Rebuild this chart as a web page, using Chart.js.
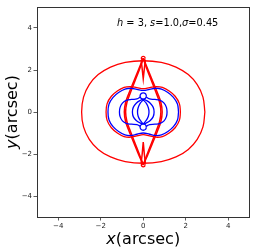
<!DOCTYPE html>
<html>
<head>
<meta charset="utf-8">
<script src="https://cdn.jsdelivr.net/npm/chart.js@4/dist/chart.umd.min.js"></script>
<style>
html,body{margin:0;padding:0;background:#fff;}
canvas{display:block;}
</style>
</head>
<body>
<canvas id="c" width="256" height="251"></canvas>
<script>
// ---- tick labels ----
const xTicks = [-4, -2, 0, 2, 4];
const yTicks = [-4, -2, 0, 2, 4];

// ---- red: large outer caustic (oval) ----
const ovalX = [2.90, 2.81, 2.54, 2.12, 1.54, 0.85, 0, -0.85, -1.54, -2.12, -2.54, -2.81, -2.90, -2.81, -2.54, -2.12, -1.54, -0.85, 0, 0.85, 1.54, 2.12, 2.54, 2.81, 2.90];
const ovalY = [0, 0.71, 1.30, 1.78, 2.14, 2.36, 2.44, 2.36, 2.14, 1.78, 1.30, 0.71, 0, -0.71, -1.30, -1.78, -2.14, -2.36, -2.44, -2.36, -2.14, -1.78, -1.30, -0.71, 0];

// ---- red: critical curve (peanut) ----
const peanutRX = [1.75, 1.70, 1.50, 1.22, 0.90, 0.60, 0.30, 0, -0.30, -0.60, -0.90, -1.22, -1.50, -1.70, -1.75, -1.70, -1.50, -1.22, -0.90, -0.60, -0.30, 0, 0.30, 0.60, 0.90, 1.22, 1.50, 1.70, 1.75];
const peanutRY = [0, 0.40, 0.75, 1.00, 1.17, 1.21, 1.16, 1.11, 1.16, 1.21, 1.17, 1.00, 0.75, 0.40, 0, -0.40, -0.75, -1.00, -1.17, -1.20, -1.14, -1.08, -1.14, -1.20, -1.17, -1.00, -0.75, -0.40, 0];

// ---- blue: critical curve (peanut, inner) ----
const peanutBX = [1.66, 1.61, 1.42, 1.16, 0.86, 0.58, 0.30, 0, -0.30, -0.58, -0.86, -1.16, -1.42, -1.61, -1.66, -1.61, -1.42, -1.16, -0.86, -0.58, -0.30, 0, 0.30, 0.58, 0.86, 1.16, 1.42, 1.61, 1.66];
const peanutBY = [0, 0.38, 0.70, 0.93, 1.09, 1.13, 1.08, 1.03, 1.08, 1.13, 1.09, 0.93, 0.70, 0.38, 0, -0.38, -0.70, -0.93, -1.09, -1.12, -1.06, -1.00, -1.06, -1.12, -1.09, -0.93, -0.70, -0.38, 0];

// ---- red: diamond caustic legs (outer and inner trace) ----
const legRX  = [0, 0.21, 0.45, 0.67, 0.83, 0.89, 0.83, 0.67, 0.45, 0.21, 0];
const legLX  = [0, -0.21, -0.45, -0.67, -0.83, -0.89, -0.83, -0.67, -0.45, -0.21, 0];
const legY   = [2.56, 2.05, 1.45, 0.90, 0.45, 0, -0.45, -0.90, -1.45, -2.05, -2.52];
const leg2RX = [0, 0.17, 0.40, 0.61, 0.77, 0.83, 0.77, 0.61, 0.40, 0.17, 0];
const leg2LX = [0, -0.17, -0.40, -0.61, -0.77, -0.83, -0.77, -0.61, -0.40, -0.17, 0];

// ---- red: inner cusps (V shapes) near top and bottom ----
const cuspTopX = [-0.10, -0.05, 0, 0.05, 0.10];
const cuspTopY = [2.48, 2.05, 1.58, 2.05, 2.48];
const cuspBotX = [-0.10, -0.05, 0, 0.05, 0.10];
const cuspBotY = [-2.44, -2.00, -1.43, -2.00, -2.44];

// ---- red: small loops at the diamond tips ----
const loopTopX = [0.09, 0.064, 0, -0.064, -0.09, -0.064, 0, 0.064, 0.09];
const loopTopY = [2.56, 2.624, 2.65, 2.624, 2.56, 2.496, 2.47, 2.496, 2.56];
const loopBotX = [0.09, 0.064, 0, -0.064, -0.09, -0.064, 0, 0.064, 0.09];
const loopBotY = [-2.52, -2.456, -2.43, -2.456, -2.52, -2.584, -2.61, -2.584, -2.52];

// ---- blue: central lens ----
const lensX = [0, 0.14, 0.24, 0.27, 0.24, 0.14, 0, -0.14, -0.24, -0.27, -0.24, -0.14, 0];
const lensY = [0.58, 0.42, 0.20, 0, -0.20, -0.40, -0.55, -0.40, -0.20, 0, 0.20, 0.42, 0.58];

// ---- blue: wings around the lens ----
const wingX = [0, -0.15, -0.33, -0.47, -0.51, -0.47, -0.33, -0.15, 0, 0.15, 0.33, 0.47, 0.51, 0.47, 0.33, 0.15, 0];
const wingY = [0.61, 0.55, 0.42, 0.22, 0, -0.22, -0.40, -0.52, -0.57, -0.52, -0.40, -0.22, 0, 0.22, 0.42, 0.55, 0.61];

// ---- blue: side lobes of the inner curve ----
const lobeLX = [-0.13, -0.30, -0.55, -0.80, -0.98, -1.09, -1.12, -1.09, -0.98, -0.80, -0.55, -0.30, -0.13];
const lobeRX = [0.13, 0.30, 0.55, 0.80, 0.98, 1.09, 1.12, 1.09, 0.98, 0.80, 0.55, 0.30, 0.13];
const lobeY  = [0.72, 0.62, 0.60, 0.55, 0.42, 0.22, 0, -0.22, -0.42, -0.54, -0.58, -0.60, -0.68];

// ---- blue: small loops top and bottom ----
const bloopTopX = [0.15, 0.106, 0, -0.106, -0.15, -0.106, 0, 0.106, 0.15];
const bloopTopY = [0.76, 0.866, 0.91, 0.866, 0.76, 0.654, 0.61, 0.654, 0.76];
const bloopBotX = [0.15, 0.106, 0, -0.106, -0.15, -0.106, 0, 0.106, 0.15];
const bloopBotY = [-0.72, -0.614, -0.57, -0.614, -0.72, -0.826, -0.87, -0.826, -0.72];

const RED = '#ff0000', BLUE = '#0000ff';
function pts(xs, ys) { return xs.map((x, i) => ({ x: x, y: ys[i] })); }
function ds(xs, ys, color, tension, width) {
  return { data: pts(xs, ys), showLine: true, borderColor: color, backgroundColor: color,
           borderWidth: width || 1.3, pointRadius: 0, fill: false, tension: tension };
}

const datasets = [
  ds(ovalX, ovalY, RED, 0.4),
  ds(peanutRX, peanutRY, RED, 0.4),
  ds(peanutBX, peanutBY, BLUE, 0.4),
  ds(lobeLX, lobeY, BLUE, 0.4),
  ds(lobeRX, lobeY, BLUE, 0.4),
  ds(wingX, wingY, BLUE, 0.4),
  ds(lensX, lensY, BLUE, 0.3),
  ds(bloopTopX, bloopTopY, BLUE, 0.4),
  ds(bloopBotX, bloopBotY, BLUE, 0.4),
  ds(legRX, legY, RED, 0.4, 1.5),
  ds(legLX, legY, RED, 0.4, 1.5),
  ds(leg2RX, legY, RED, 0.4, 1.5),
  ds(leg2LX, legY, RED, 0.4, 1.5),
  ds(cuspTopX, cuspTopY, RED, 0, 1.5),
  ds(cuspBotX, cuspBotY, RED, 0, 1.5),
  ds(loopTopX, loopTopY, RED, 0.4),
  ds(loopBotX, loopBotY, RED, 0.4)
];

const FONT = '"DejaVu Sans", "Liberation Sans", sans-serif';
const fmt = v => (v < 0 ? '\u2212' + Math.abs(v) : String(v));

function drawSegs(ctx, segs, size, x, y, align) {
  let total = 0;
  segs.forEach(s => { ctx.font = s[1] + ' ' + size + 'px ' + FONT; total += ctx.measureText(s[0]).width; });
  let cx = align === 'center' ? x - total / 2 : x;
  ctx.textAlign = 'left';
  ctx.textBaseline = 'middle';
  segs.forEach(s => {
    ctx.font = s[1] + ' ' + size + 'px ' + FONT;
    ctx.fillText(s[0], cx, y);
    cx += ctx.measureText(s[0]).width;
  });
}

const decor = {
  id: 'decor',
  afterDraw(chart) {
    const ctx = chart.ctx, a = chart.chartArea;
    ctx.save();
    ctx.strokeStyle = '#333';
    ctx.lineWidth = 1;
    ctx.strokeRect(Math.round(a.left) + 0.5, Math.round(a.top) + 0.5, Math.round(a.right - a.left) - 1, Math.round(a.bottom - a.top));
    ctx.fillStyle = '#000';
    // x-axis title
    drawSegs(ctx, [['x', 'italic'], ['(arcsec)', 'normal']], 16, (a.left + a.right) / 2, 239.5, 'center');
    // y-axis title
    ctx.save();
    ctx.translate(13, (a.top + a.bottom) / 2);
    ctx.rotate(-Math.PI / 2);
    drawSegs(ctx, [['y', 'italic'], ['(arcsec)', 'normal']], 16, 0, 0, 'center');
    ctx.restore();
    // annotation
    drawSegs(ctx, [['h', 'italic'], [' = 3, ', 'normal'], ['s', 'italic'], ['=1.0,', 'normal'], ['\u03c3', 'italic'], ['=0.45', 'normal']], 9.8, 117, 23.5, 'left');
    ctx.restore();
  }
};

const axisCommon = (ticksArr, isX) => ({
  type: 'linear',
  min: -5, max: 5,
  afterBuildTicks: s => { s.ticks = ticksArr.map(v => ({ value: v })); },
  afterFit: s => { if (isX) s.height = 34; else s.width = 37; },
  ticks: { font: { size: 7, family: FONT }, color: '#222', padding: 1.5, callback: v => fmt(v), maxRotation: 0, autoSkip: false },
  grid: { drawOnChartArea: false, drawTicks: true, tickLength: 3.5, color: '#333', tickWidth: 0.8 },
  border: { display: true, color: '#333', width: 1 },
  title: { display: false }
});

new Chart(document.getElementById('c'), {
  type: 'scatter',
  data: { datasets: datasets },
  options: {
    responsive: false,
    devicePixelRatio: 1,
    animation: false,
    layout: { padding: { top: 7, right: 6.5, left: 0, bottom: 0 } },
    plugins: { legend: { display: false }, tooltip: { enabled: false } },
    scales: { x: axisCommon(xTicks, true), y: axisCommon(yTicks, false) }
  },
  plugins: [decor]
});
</script>
</body>
</html>
